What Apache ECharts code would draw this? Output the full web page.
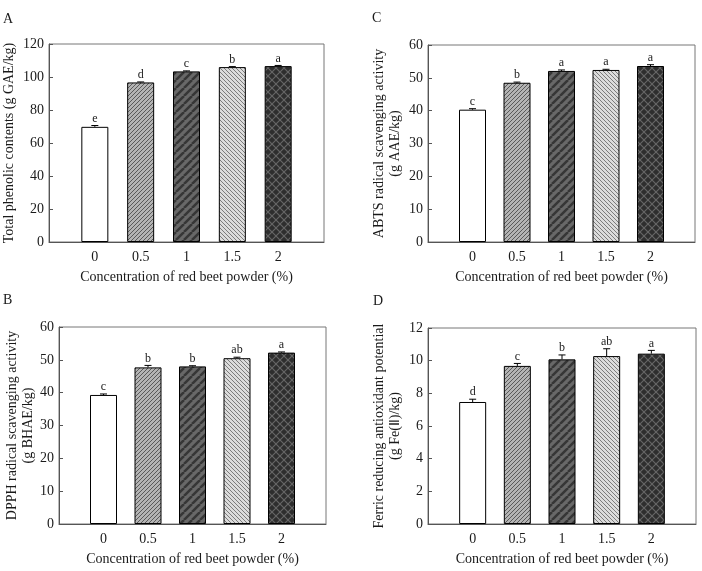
<!DOCTYPE html>
<html>
<head>
<meta charset="utf-8">
<script src="https://cdn.jsdelivr.net/npm/echarts@6/dist/echarts.min.js"></script>
<style>
	html, body { margin: 0; padding: 0; background: #fff; }
	#main { width: 702px; height: 571px; }
</style>
</head>
<body>
<div id="main"></div>
<script>
// red beet powder level (%)
const categories = [ '0', '0.5', '1', '1.5', '2' ];

// A - total phenolic contents
const tpcValues = [ 69.8, 96.7, 103.4, 106.0, 106.6 ];
const tpcErrors = [ 0.8, 0.3, 0.3, 0.3, 0.4 ];
const tpcLetters = [ 'e', 'd', 'c', 'b', 'a' ];

// B - DPPH
const dpphValues = [ 39.3, 47.7, 48.0, 50.5, 52.2 ];
const dpphErrors = [ 0.3, 0.6, 0.2, 0.3, 0.2 ];
const dpphLetters = [ 'c', 'b', 'b', 'ab', 'a' ];

// C - ABTS
const abtsValues = [ 40.3, 48.5, 52.1, 52.4, 53.6 ];
const abtsErrors = [ 0.3, 0.2, 0.3, 0.2, 0.4 ];
const abtsLetters = [ 'c', 'b', 'a', 'a', 'a' ];

// D - FRAP
const frapValues = [ 7.47, 9.68, 10.08, 10.28, 10.43 ];
const frapErrors = [ 0.17, 0.15, 0.27, 0.45, 0.2 ];
const frapLetters = [ 'd', 'c', 'b', 'ab', 'a' ];

const FONT = '"Liberation Serif", "Times New Roman", serif';
const TEXT = '#1a1a1a';
const xName = 'Concentration of red beet powder (%)';

// hatch fills, drawn on a small tile and repeated
function makePattern( size, bg, fg, lw, dirs ) {
	const c = document.createElement( 'canvas' );
	c.width = size;
	c.height = size;
	const ctx = c.getContext( '2d' );
	ctx.fillStyle = bg;
	ctx.fillRect( 0, 0, size, size );
	ctx.strokeStyle = fg;
	ctx.lineWidth = lw;
	dirs.forEach( d => {
		for ( let k = -1; k <= 1; k++ ) {
			ctx.beginPath();
			if ( d === '/' ) {
				ctx.moveTo( k * size, size );
				ctx.lineTo( k * size + size, 0 );
			} else {
				ctx.moveTo( k * size, 0 );
				ctx.lineTo( k * size + size, size );
			}
			ctx.stroke();
		}
	} );
	return { image: c, repeat: 'repeat' };
}

const fills = [
	'#ffffff',
	makePattern( 4, '#b4b4b4', '#5a5a5a', 1, [ '/' ] ),
	makePattern( 8, '#686868', '#363636', 2.5, [ '/' ] ),
	makePattern( 4, '#dcdcdc', '#7c7c7c', 1, [ '\\' ] ),
	makePattern( 8, '#2e2e2e', '#666666', 1.2, [ '/', '\\' ] )
];

const panels = [
	{ tag: 'A', tagPos: [ 3, 12 ], grid: { left: 49, top: 44, width: 275, height: 198 }, max: 120, interval: 20,
		values: tpcValues, errors: tpcErrors, letters: tpcLetters,
		yName: 'Total phenolic contents (g GAE/kg)', yGap: 32 },
	{ tag: 'C', tagPos: [ 372, 11 ], grid: { left: 428, top: 45, width: 267, height: 197 }, max: 60, interval: 10,
		values: abtsValues, errors: abtsErrors, letters: abtsLetters,
		yName: 'ABTS radical scavenging activity\n(g AAE/kg)', yGap: 25 },
	{ tag: 'B', tagPos: [ 3, 293 ], grid: { left: 59, top: 327, width: 267, height: 197 }, max: 60, interval: 10,
		values: dpphValues, errors: dpphErrors, letters: dpphLetters,
		yName: 'DPPH radical scavenging activity\n(g BHAE/kg)', yGap: 22 },
	{ tag: 'D', tagPos: [ 373, 294 ], grid: { left: 428, top: 328, width: 268, height: 196 }, max: 12, interval: 2,
		values: frapValues, errors: frapErrors, letters: frapLetters,
		yName: 'Ferric reducing antioxidant potential\n(g Fe(Ⅱ)/kg)', yGap: 25 }
];

const grid = [];
const xAxis = [];
const yAxis = [];
const series = [];
const graphic = [];

panels.forEach( ( p, i ) => {
	grid.push( Object.assign( { show: true, borderColor: '#777', borderWidth: 1, backgroundColor: 'transparent' }, p.grid ) );
	xAxis.push( {
		gridIndex: i,
		type: 'value',
		min: -1,
		max: 5,
		interval: 1,
		axisLine: { show: true, onZero: false, lineStyle: { color: '#555', width: 1 } },
		axisTick: { show: false },
		splitLine: { show: false },
		axisLabel: {
			margin: 8, color: TEXT, fontFamily: FONT, fontSize: 14,
			formatter: v => categories[v] !== undefined ? categories[v] : ''
		},
		name: xName,
		nameLocation: 'middle',
		nameGap: 28,
		nameTextStyle: { color: TEXT, fontFamily: FONT, fontSize: 14 }
	} );
	yAxis.push( {
		gridIndex: i,
		type: 'value',
		min: 0,
		max: p.max,
		interval: p.interval,
		axisLine: { show: true, onZero: false, lineStyle: { color: '#555', width: 1 } },
		axisTick: { show: true, inside: true, length: 4, lineStyle: { color: '#555' } },
		splitLine: { show: false },
		axisLabel: { margin: 5, color: TEXT, fontFamily: FONT, fontSize: 14 },
		name: p.yName,
		nameLocation: 'middle',
		nameGap: p.yGap,
		nameRotate: 90,
		nameTextStyle: { color: TEXT, fontFamily: FONT, fontSize: 14, lineHeight: 16 }
	} );
	series.push( {
		type: 'bar',
		xAxisIndex: i,
		yAxisIndex: i,
		barWidth: 27,
		silent: true,
		animation: false,
		itemStyle: { borderColor: '#000', borderWidth: 1 },
		data: p.values.map( ( v, j ) => ( { value: [ j, v ], itemStyle: { color: fills[j] } } ) )
	} );
	// error bar (upper side) and significance letter
	series.push( {
		type: 'custom',
		xAxisIndex: i,
		yAxisIndex: i,
		z: 5,
		silent: true,
		animation: false,
		data: p.values.map( ( v, j ) => [ j, v, p.errors[j] ] ),
		renderItem: function ( params, api ) {
			const x = api.value( 0 );
			const v = api.value( 1 );
			const e = api.value( 2 );
			const base = api.coord( [ x, v ] );
			const top = api.coord( [ x, v + e ] );
			return {
				type: 'group',
				children: [
					{ type: 'line', shape: { x1: base[0], y1: base[1], x2: top[0], y2: top[1] }, style: { stroke: '#000', lineWidth: 1 } },
					{ type: 'line', shape: { x1: top[0] - 3.5, y1: top[1], x2: top[0] + 3.5, y2: top[1] }, style: { stroke: '#000', lineWidth: 1 } },
					{ type: 'text', x: top[0], y: top[1] - 1, style: {
						text: p.letters[params.dataIndex], align: 'center', verticalAlign: 'bottom',
						fontFamily: FONT, fontSize: 12, fill: TEXT
					} }
				]
			};
		}
	} );
	graphic.push( {
		type: 'text', left: p.tagPos[0], top: p.tagPos[1],
		style: { text: p.tag, fontFamily: FONT, fontSize: 14, fill: TEXT }
	} );
} );

const myChart = echarts.init( document.getElementById( 'main' ), null, { renderer: 'canvas' } );
myChart.setOption( {
	animation: false,
	backgroundColor: '#fff',
	grid,
	xAxis,
	yAxis,
	series,
	graphic
} );
</script>
</body>
</html>
